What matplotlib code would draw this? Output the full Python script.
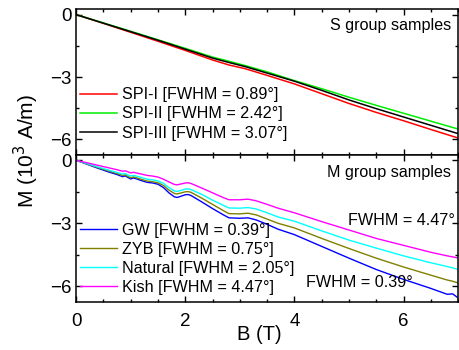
import numpy as np
import matplotlib
matplotlib.use('Agg')
import matplotlib.pyplot as plt
from matplotlib.ticker import MultipleLocator

plt.rcParams['font.family'] = ['Liberation Sans', 'DejaVu Sans']

# S group samples (top panel)
b_s = [0, 0.5, 1.0, 1.5, 2.0, 2.5, 2.8, 3.1, 3.5, 4.0, 4.5, 5.0, 5.5, 6.0, 6.5, 7.0]
spi_1 = [0, -0.42, -0.85, -1.28, -1.72, -2.18, -2.42, -2.6, -2.92, -3.33, -3.8, -4.27, -4.7, -5.1, -5.52, -5.93]
spi_2 = [0, -0.40, -0.80, -1.21, -1.62, -2.04, -2.24, -2.45, -2.75, -3.17, -3.56, -3.97, -4.36, -4.74, -5.12, -5.50]
spi_3 = [0, -0.41, -0.82, -1.23, -1.66, -2.09, -2.30, -2.50, -2.81, -3.20, -3.64, -4.10, -4.52, -4.92, -5.32, -5.72]
labels_s = ['SPI-I [FWHM = 0.89°]', 'SPI-II [FWHM = 2.42°]', 'SPI-III [FWHM = 3.07°]']
colors_s = ['#ff0000', '#00ee00', '#000000']

# M group samples (bottom panel)
b_m = [0, 0.2, 0.4, 0.6, 0.75, 0.85, 0.9, 0.95, 1.0, 1.05, 1.1, 1.2, 1.3, 1.4, 1.5, 1.6,
       1.7, 1.8, 1.85, 1.9, 2.0, 2.05, 2.1, 2.3, 2.5, 2.7, 2.8, 3.0, 3.15, 3.3, 3.5,
       3.7, 4.0, 4.5, 5.0, 5.5, 6.0, 6.5, 6.8, 6.9, 7.0]
gw = [0, -0.19, -0.38, -0.56, -0.68, -0.78, -0.74, -0.82, -0.89, -0.84, -0.88, -0.97, -1.05, -1.08, -1.14, -1.3,
      -1.55, -1.74, -1.77, -1.73, -1.64, -1.63, -1.67, -1.98, -2.3, -2.6, -2.74, -2.76, -2.74, -2.84, -3.05,
      -3.28, -3.54, -4.1, -4.66, -5.2, -5.67, -6.1, -6.38, -6.36, -6.55]
zyb = [0, -0.17, -0.35, -0.51, -0.63, -0.72, -0.69, -0.77, -0.83, -0.79, -0.83, -0.91, -0.99, -1.02, -1.07, -1.2,
       -1.42, -1.58, -1.6, -1.57, -1.5, -1.49, -1.52, -1.8, -2.1, -2.4, -2.54, -2.55, -2.52, -2.6, -2.8,
       -3.0, -3.22, -3.72, -4.2, -4.66, -5.08, -5.47, -5.7, -5.76, -5.84]
natural = [0, -0.16, -0.32, -0.47, -0.58, -0.66, -0.63, -0.7, -0.75, -0.72, -0.75, -0.82, -0.9, -0.93, -0.98, -1.1,
           -1.3, -1.46, -1.48, -1.45, -1.37, -1.36, -1.39, -1.62, -1.9, -2.15, -2.27, -2.28, -2.25, -2.32, -2.5,
           -2.7, -2.9, -3.36, -3.8, -4.18, -4.55, -4.88, -5.06, -5.12, -5.2]
kish = [0, -0.12, -0.24, -0.36, -0.45, -0.52, -0.5, -0.55, -0.6, -0.57, -0.6, -0.66, -0.72, -0.75, -0.8, -0.9,
        -1.03, -1.15, -1.17, -1.14, -1.08, -1.07, -1.1, -1.32, -1.55, -1.78, -1.88, -1.88, -1.85, -1.93, -2.1,
        -2.28, -2.5, -2.92, -3.32, -3.72, -4.05, -4.38, -4.55, -4.6, -4.65]
labels_m = ['GW [FWHM = 0.39°]', 'ZYB [FWHM = 0.75°]', 'Natural [FWHM = 2.05°]', 'Kish [FWHM = 4.47°]']
colors_m = ['#0000ff', '#808000', '#00ffff', '#ff00ff']

fig = plt.figure(figsize=(4.59, 3.5), dpi=100)
ax1 = fig.add_axes([0.166, 0.557, 0.832, 0.416])
ax2 = fig.add_axes([0.166, 0.137, 0.832, 0.42])

for y, lab, c in zip([spi_1, spi_2, spi_3], labels_s, colors_s):
    ax1.plot(b_s, y, color=c, lw=1.1, label=lab)
for y, lab, c in zip([gw, zyb, natural, kish], labels_m, colors_m):
    ax2.plot(b_m, y, color=c, lw=1.0, label=lab)

for ax, ly in ((ax1, 0.282), (ax2, 0.293)):
    ax.set_xlim(0, 7)
    ax.set_ylim(-6.75, 0.25)
    ax.xaxis.set_major_locator(MultipleLocator(2))
    ax.xaxis.set_minor_locator(MultipleLocator(0.5))
    ax.yaxis.set_major_locator(MultipleLocator(3))
    ax.yaxis.set_minor_locator(MultipleLocator(1.5))
    ax.tick_params(which='both', direction='in', top=True, right=True, labelsize=13.5)
    ax.tick_params(which='major', length=4, width=1)
    ax.tick_params(which='minor', length=2.5, width=1)
    ax.tick_params(axis='x', pad=8)
    for s in ax.spines.values():
        s.set_linewidth(1.1)
    ax.legend(loc='center left', bbox_to_anchor=(0.0, ly), frameon=False, fontsize=11.6,
              handlelength=2.3, handletextpad=0.3, labelspacing=0.25, borderpad=0.0,
              borderaxespad=0.25)

ax1.tick_params(labelbottom=False)
ax1.text(0.982, 0.893, 'S group samples', transform=ax1.transAxes, ha='right', va='center', fontsize=11.6)
ax2.text(0.982, 0.878, 'M group samples', transform=ax2.transAxes, ha='right', va='center', fontsize=11.6)
ax2.text(0.992, 0.558, 'FWHM = 4.47°', transform=ax2.transAxes, ha='right', va='center', fontsize=11.6)
ax2.text(0.88, 0.13, 'FWHM = 0.39°', transform=ax2.transAxes, ha='right', va='center', fontsize=11.6)

ax2.set_xlabel('B (T)', fontsize=14.5)
ax2.xaxis.set_label_coords(0.48, -0.156)
fig.text(0.058, 0.568, 'M (10$^3$ A/m)', rotation=90, ha='center', va='center', fontsize=15)

fig.savefig('out.png', dpi=100)
